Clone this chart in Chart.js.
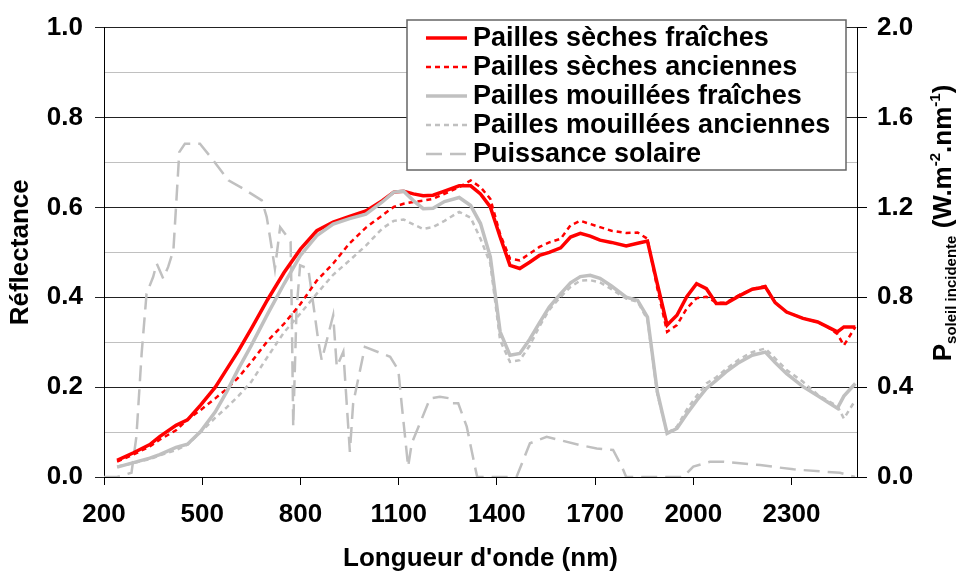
<!DOCTYPE html>
<html>
<head>
<meta charset="utf-8">
<script src="https://cdn.jsdelivr.net/npm/chart.js@4.4.0/dist/chart.umd.min.js"></script>
<style>
  html, body { margin: 0; padding: 0; background: #fff; }
  #chart { display: block; }
</style>
</head>
<body>
<canvas id="chart" width="960" height="574"></canvas>
<script>
// wavelengths (nm) shared by the 4 reflectance curves
const wavelengths = [240, 290, 340, 370, 420, 455, 495, 540, 575, 610, 650, 700, 750, 800, 850, 900, 950, 1000, 1050, 1085,
    1115, 1145, 1175, 1205, 1240, 1285, 1320, 1350, 1380, 1410, 1440, 1470, 1500, 1530, 1560, 1595, 1625, 1655, 1685, 1715,
    1750, 1795, 1830, 1860, 1890, 1920, 1950, 1980, 2010, 2040, 2070, 2100, 2140, 2180, 2220, 2250, 2285, 2335, 2380, 2410,
    2440, 2460, 2495]

const sechesFraiches = [0.037, 0.054, 0.072, 0.090, 0.115, 0.127, 0.160, 0.200, 0.240, 0.280, 0.330, 0.395, 0.455, 0.507, 0.548, 0.567, 0.580, 0.592, 0.615, 0.634,
    0.636, 0.630, 0.626, 0.627, 0.636, 0.648, 0.648, 0.630, 0.601, 0.534, 0.471, 0.464, 0.478, 0.493, 0.500, 0.510, 0.534, 0.542, 0.536, 0.527,
    0.522, 0.514, 0.520, 0.525, 0.430, 0.338, 0.360, 0.401, 0.430, 0.419, 0.386, 0.386, 0.403, 0.418, 0.423, 0.388, 0.367, 0.353, 0.345, 0.334,
    0.323, 0.334, 0.334]

const sechesAnciennes = [0.034, 0.050, 0.068, 0.083, 0.104, 0.128, 0.149, 0.175, 0.196, 0.221, 0.256, 0.303, 0.341, 0.385, 0.437, 0.475, 0.520, 0.555, 0.582, 0.601,
    0.608, 0.612, 0.615, 0.619, 0.630, 0.645, 0.660, 0.645, 0.619, 0.540, 0.486, 0.482, 0.497, 0.512, 0.522, 0.530, 0.560, 0.570, 0.563, 0.556,
    0.548, 0.543, 0.544, 0.530, 0.420, 0.323, 0.338, 0.375, 0.398, 0.401, 0.388, 0.388, 0.405, 0.418, 0.425, 0.388, 0.367, 0.353, 0.345, 0.334,
    0.318, 0.293, 0.334]

const mouilleesFraiches = [0.022, 0.032, 0.042, 0.050, 0.066, 0.073, 0.101, 0.145, 0.190, 0.240, 0.293, 0.363, 0.430, 0.493, 0.537, 0.563, 0.575, 0.585, 0.612, 0.634,
    0.636, 0.615, 0.597, 0.598, 0.613, 0.622, 0.604, 0.564, 0.490, 0.323, 0.271, 0.275, 0.306, 0.343, 0.378, 0.408, 0.432, 0.446, 0.449, 0.442,
    0.425, 0.400, 0.393, 0.356, 0.190, 0.097, 0.108, 0.140, 0.170, 0.197, 0.215, 0.234, 0.255, 0.271, 0.278, 0.255, 0.230, 0.201, 0.181, 0.167,
    0.153, 0.180, 0.208]

const mouilleesAnciennes = [0.023, 0.031, 0.040, 0.048, 0.060, 0.072, 0.100, 0.132, 0.155, 0.180, 0.212, 0.268, 0.322, 0.364, 0.408, 0.450, 0.482, 0.515, 0.553, 0.570,
    0.573, 0.562, 0.552, 0.556, 0.570, 0.590, 0.577, 0.530, 0.475, 0.304, 0.256, 0.260, 0.292, 0.335, 0.372, 0.401, 0.423, 0.437, 0.438, 0.433,
    0.418, 0.397, 0.390, 0.350, 0.185, 0.097, 0.112, 0.150, 0.180, 0.208, 0.222, 0.240, 0.262, 0.278, 0.286, 0.264, 0.238, 0.212, 0.183, 0.170,
    0.158, 0.130, 0.171]

// solar spectrum (right axis)
const solarWl = [200, 240, 284, 299, 315, 330, 350, 361, 381, 396, 412, 430, 447, 493, 534, 580, 625, 682, 697, 707,
    722, 738, 753, 770, 773, 778, 788, 799, 824, 839, 855, 865, 900, 911, 931, 951, 961, 997, 1074, 1099,
    1109, 1129, 1140, 1165, 1196, 1226, 1257, 1262, 1282, 1308, 1333, 1340, 1460, 1501, 1552, 1654, 1705, 1755, 1782, 1795,
    1969, 2000, 2051, 2092, 2204, 2306, 2398, 2448, 2494]
const solarPower = [0, 0, 0.019, 0.18, 0.55, 0.816, 0.89, 0.95, 0.883, 0.935, 1.009, 1.446, 1.483, 1.483, 1.409, 1.32, 1.283, 1.231, 1.157, 1.068,
    0.927, 1.112, 1.083, 1.046, 0.787, 0.224, 0.742, 0.942, 0.927, 0.772, 0.601, 0.52, 0.72, 0.49, 0.557, 0.112, 0.328, 0.579, 0.535, 0.476,
    0.328, 0.046, 0.15, 0.239, 0.35, 0.357, 0.35, 0.328, 0.328, 0.224, 0.046, 0, 0, 0.15, 0.179, 0.142, 0.127, 0.12, 0.046, 0,
    0, 0.046, 0.068, 0.068, 0.053, 0.034, 0.024, 0.019, 0]

const xTicks = [200, 500, 800, 1100, 1400, 1700, 2000, 2300]
const leftTicks = [0, 0.1, 0.2, 0.3, 0.4, 0.5, 0.6, 0.7, 0.8, 0.9, 1.0]
const rightTicks = [0, 0.4, 0.8, 1.2, 1.6, 2.0]

const FONT = "'Liberation Sans', Arial, sans-serif"
const RED = '#ff0000'
const GREY = '#c0c0c0'

function pts(xs, ys) {
    return xs.map((x, i) => ({ x: x, y: ys[i] }))
}
function isMajor(v) {
    return Math.round(v * 10) % 2 === 0
}

const datasets = [
    { label: 'Pailles sèches fraîches', data: pts(wavelengths, sechesFraiches), borderColor: RED, borderWidth: 3.5, order: 4 },
    { label: 'Pailles sèches anciennes', data: pts(wavelengths, sechesAnciennes), borderColor: RED, borderWidth: 2.5, borderDash: [5, 4], order: 3 },
    { label: 'Pailles mouillées fraîches', data: pts(wavelengths, mouilleesFraiches), borderColor: GREY, borderWidth: 3.5, order: 2 },
    { label: 'Pailles mouillées anciennes', data: pts(wavelengths, mouilleesAnciennes), borderColor: GREY, borderWidth: 2.5, borderDash: [5, 4], order: 1 },
    { label: 'Puissance solaire', data: pts(solarWl, solarPower), borderColor: GREY, borderWidth: 2.5, borderDash: [16, 8], yAxisID: 'y1', order: 5 }
]
datasets.forEach(d => { d.pointRadius = 0; d.fill = false; d.tension = 0 })

// legend box + right axis title (with sub/superscripts) drawn by hand
const extras = {
    id: 'extras',
    afterDraw(chart) {
        const ctx = chart.ctx
        ctx.save()
        // legend
        ctx.fillStyle = '#fff'
        ctx.fillRect(407, 20, 439, 150)
        ctx.strokeStyle = '#666'
        ctx.lineWidth = 1.5
        ctx.strokeRect(407, 20, 439, 150)
        ctx.font = 'bold 27px ' + FONT
        ctx.textBaseline = 'middle'
        datasets.forEach((d, i) => {
            const y = 38 + i * 29
            ctx.strokeStyle = d.borderColor
            ctx.lineWidth = d.borderWidth
            ctx.setLineDash(d.borderDash || [])
            ctx.beginPath()
            ctx.moveTo(426, y)
            ctx.lineTo(467, y)
            ctx.stroke()
            ctx.setLineDash([])
            ctx.fillStyle = '#000'
            ctx.fillText(d.label, 473, y + 1)
        })

        // right title, rotated
        const parts = [
            { t: 'P', size: 26, dy: 0 },
            { t: 'soleil incidente', size: 15, dy: 5 },
            { t: ' (W.m', size: 26, dy: 0 },
            { t: '-2', size: 15, dy: -11 },
            { t: '.nm', size: 26, dy: 0 },
            { t: '-1', size: 15, dy: -11 },
            { t: ')', size: 26, dy: 0 }
        ]
        let total = 0
        parts.forEach(p => {
            ctx.font = 'bold ' + p.size + 'px ' + FONT
            p.w = ctx.measureText(p.t).width
            total += p.w
        })
        ctx.translate(951, 223)
        ctx.rotate(-Math.PI / 2)
        ctx.textBaseline = 'alphabetic'
        ctx.textAlign = 'left'
        ctx.fillStyle = '#000'
        let x = -total / 2
        parts.forEach(p => {
            ctx.font = 'bold ' + p.size + 'px ' + FONT
            ctx.fillText(p.t, x, p.dy)
            x += p.w
        })
        ctx.restore()
    }
}

var context = document.getElementById('chart').getContext('2d')
new Chart(context, {
    type: 'line',
    data: { datasets: datasets },
    plugins: [extras],
    options: {
        responsive: false,
        animation: false,
        devicePixelRatio: 1,
        layout: { padding: { top: 27, left: 0, right: 0, bottom: 0 } },
        plugins: {
            legend: { display: false },
            tooltip: { enabled: false }
        },
        scales: {
            x: {
                type: 'linear',
                min: 200,
                max: 2500,
                afterBuildTicks: s => { s.ticks = xTicks.map(v => ({ value: v })) },
                afterFit: s => { s.height = 97 },
                ticks: {
                    color: '#000',
                    font: { family: FONT, size: 26, weight: 'bold' },
                    padding: 14,
                    maxRotation: 0,
                    autoSkip: false,
                    callback: v => String(v)
                },
                grid: { drawOnChartArea: false, tickLength: 8, color: '#000' },
                border: { color: '#000', width: 1 },
                title: { display: true, text: "Longueur d'onde (nm)", color: '#000', font: { family: FONT, size: 26, weight: 'bold' }, padding: { top: 0, bottom: 0 } }
            },
            y: {
                position: 'left',
                min: 0,
                max: 1,
                afterBuildTicks: s => { s.ticks = leftTicks.map(v => ({ value: v })) },
                afterFit: s => { s.width = 104 },
                ticks: {
                    color: '#000',
                    font: { family: FONT, size: 26, weight: 'bold' },
                    padding: 12,
                    callback: v => isMajor(v) ? v.toFixed(1) : ''
                },
                grid: {
                    tickLength: 9,
                    color: c => (c.tick && isMajor(c.tick.value)) ? '#222' : GREY,
                    tickColor: c => (c.tick && isMajor(c.tick.value)) ? '#222' : 'rgba(0,0,0,0)'
                },
                border: { color: '#000', width: 1 },
                title: { display: true, text: 'Réflectance', color: '#000', font: { family: FONT, size: 26, weight: 'bold' }, padding: { top: 5, bottom: 0 } }
            },
            y1: {
                position: 'right',
                min: 0,
                max: 2,
                afterBuildTicks: s => { s.ticks = rightTicks.map(v => ({ value: v })) },
                afterFit: s => { s.width = 103 },
                ticks: {
                    color: '#000',
                    font: { family: FONT, size: 26, weight: 'bold' },
                    padding: 10,
                    callback: v => v.toFixed(1)
                },
                grid: { drawOnChartArea: false, tickLength: 10, color: '#000' },
                border: { color: '#000', width: 1 }
            }
        }
    }
})
</script>
</body>
</html>
